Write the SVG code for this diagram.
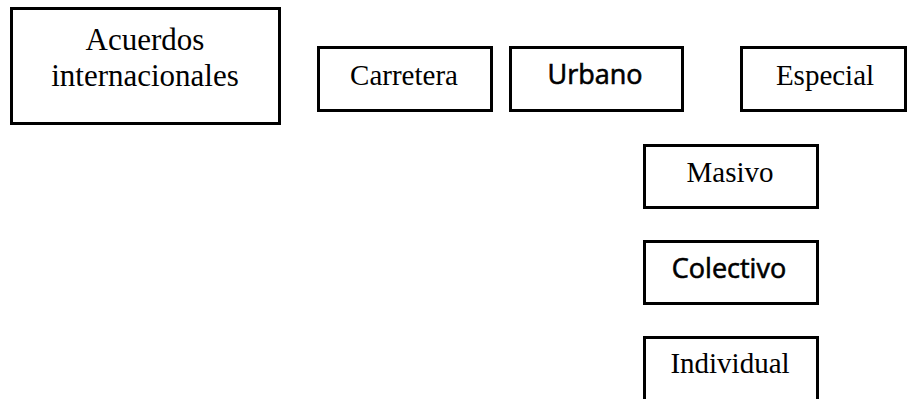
<svg xmlns="http://www.w3.org/2000/svg" width="907" height="399" viewBox="0 0 907 399">
  <style>
    .box { fill: #ffffff; stroke: #000000; stroke-width: 3; }
    .serif { font-family: "Liberation Serif", "Times New Roman", serif; font-size: 29px; fill: #000000; text-anchor: middle; }
    .big { font-size: 31px; }
    .sans { font-family: "Open Sans", "Noto Sans", sans-serif; font-size: 27px; font-weight: 500; fill: #000000; stroke: #000000; stroke-width: 0.6px; text-anchor: middle; }
  </style>
  <rect width="907" height="399" fill="#ffffff"/>
  <g id="connectors"></g>
  <g id="acuerdos">
    <rect class="box" x="11.5" y="8.5" width="268" height="115"/>
    <text class="serif big" x="145" y="50">Acuerdos</text>
    <text class="serif big" x="145" y="86">internacionales</text>
  </g>
  <g id="carretera">
    <rect class="box" x="318.5" y="47.5" width="173" height="63"/>
    <text class="serif" x="404" y="85">Carretera</text>
  </g>
  <g id="urbano">
    <rect class="box" x="510.5" y="47.5" width="172" height="63"/>
    <text class="sans" x="595" y="84">Urbano</text>
  </g>
  <g id="especial">
    <rect class="box" x="741.5" y="47.5" width="164" height="63"/>
    <text class="serif" x="825" y="85">Especial</text>
  </g>
  <g id="masivo">
    <rect class="box" x="644.5" y="145.5" width="173" height="62"/>
    <text class="serif" x="730" y="182">Masivo</text>
  </g>
  <g id="colectivo">
    <rect class="box" x="644.5" y="241.5" width="173" height="62"/>
    <text class="sans" x="729" y="278">Colectivo</text>
  </g>
  <g id="individual">
    <rect class="box" x="644.5" y="337.5" width="173" height="63"/>
    <text class="serif" x="730" y="373">Individual</text>
  </g>
</svg>
